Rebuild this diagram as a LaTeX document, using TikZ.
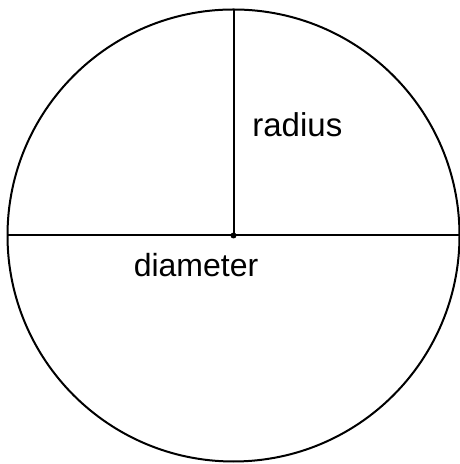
\documentclass[tikz,border=0pt]{standalone}
\usepackage{fontspec}
\setmainfont{Liberation Sans}
\usetikzlibrary{positioning}

\begin{document}
\begin{tikzpicture}[x=0.5pt,y=0.5pt]
\useasboundingbox (0,0) rectangle (459,464);
\coordinate (centre) at (233.5,228.5);
\coordinate (west) at (7.5,228.5);
\coordinate (east) at (459.5,228.5);
\coordinate (top) at (233.5,454.5);
\draw[line width=1pt] (centre) circle (226);
\draw[line width=1pt] (west) -- (east);
\draw[line width=1pt] (centre) -- (top);
\fill[black] (centre) circle (3);
\node[anchor=base west, inner sep=0pt, font=\fontsize{16.5pt}{19pt}\selectfont] (radius) at (252,327) {radius};
\node[anchor=base, inner sep=0pt, font=\fontsize{16pt}{19pt}\selectfont] (diameter) at (196,187) {diameter};
\end{tikzpicture}
\end{document}
